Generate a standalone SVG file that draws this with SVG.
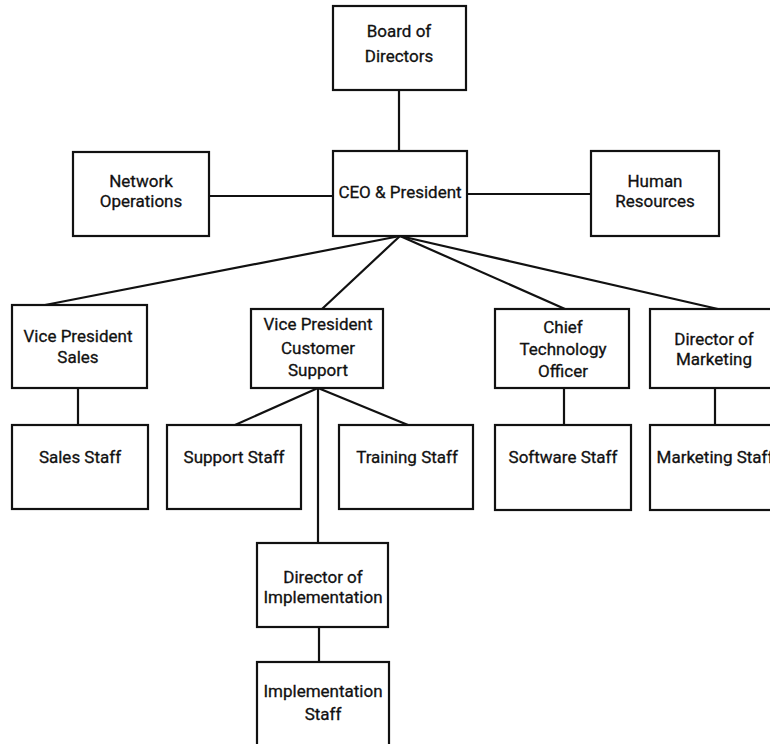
<svg xmlns="http://www.w3.org/2000/svg" width="770" height="744" viewBox="0 0 770 744">
<style>
.box{fill:#fff;stroke:#111;stroke-width:2.2}
.ln{stroke:#111;stroke-width:2.2;fill:none}
text{font-family:Roboto,"Liberation Sans",sans-serif;font-size:17px;fill:#111;text-anchor:middle;stroke:#111;stroke-width:0.3}
</style>
<rect width="770" height="744" fill="#fff"/>
<g id="connectors">
<line class="ln" x1="399" y1="90" x2="399" y2="151"/>
<line class="ln" x1="209" y1="196" x2="333" y2="196"/>
<line class="ln" x1="467" y1="194" x2="591" y2="194"/>
<line class="ln" x1="400" y1="236" x2="45" y2="305"/>
<line class="ln" x1="400" y1="236" x2="322" y2="309"/>
<line class="ln" x1="400" y1="236" x2="565" y2="309"/>
<line class="ln" x1="400" y1="236" x2="718" y2="309"/>
<line class="ln" x1="78" y1="388" x2="78" y2="425"/>
<line class="ln" x1="318" y1="388" x2="235" y2="425"/>
<line class="ln" x1="318" y1="388" x2="408" y2="425"/>
<line class="ln" x1="318" y1="388" x2="318" y2="543"/>
<line class="ln" x1="564" y1="388" x2="564" y2="425"/>
<line class="ln" x1="715" y1="388" x2="715" y2="425"/>
<line class="ln" x1="319" y1="627" x2="319" y2="662"/>
</g>
<g id="board"><rect class="box" x="333" y="6" width="133" height="84"/><text x="399" y="37">Board of</text><text x="399" y="62">Directors</text></g>
<g id="network"><rect class="box" x="73" y="152" width="136" height="84"/><text x="141" y="187">Network</text><text x="141" y="207">Operations</text></g>
<g id="ceo"><rect class="box" x="333" y="151" width="134" height="85"/><text x="400" y="198">CEO &amp; President</text></g>
<g id="hr"><rect class="box" x="591" y="151" width="128" height="85"/><text x="655" y="187">Human</text><text x="655" y="207">Resources</text></g>
<g id="vpsales"><rect class="box" x="12" y="305" width="135" height="83"/><text x="78" y="342">Vice President</text><text x="78" y="363">Sales</text></g>
<g id="vpcs"><rect class="box" x="251" y="309" width="132" height="79"/><text x="318" y="330">Vice President</text><text x="318" y="354">Customer</text><text x="318" y="376">Support</text></g>
<g id="cto"><rect class="box" x="495" y="309" width="134" height="79"/><text x="563" y="333">Chief</text><text x="563" y="355">Technology</text><text x="563" y="377">Officer</text></g>
<g id="dirmkt"><rect class="box" x="650" y="309" width="130" height="79"/><text x="714" y="345">Director of</text><text x="714" y="365">Marketing</text></g>
<g id="salesstaff"><rect class="box" x="12" y="425" width="136" height="84"/><text x="80" y="463">Sales Staff</text></g>
<g id="supportstaff"><rect class="box" x="167" y="425" width="134" height="84"/><text x="234" y="463">Support Staff</text></g>
<g id="trainingstaff"><rect class="box" x="339" y="425" width="134" height="84"/><text x="407" y="463">Training Staff</text></g>
<g id="softwarestaff"><rect class="box" x="495" y="425" width="136" height="85"/><text x="563" y="463">Software Staff</text></g>
<g id="marketingstaff"><rect class="box" x="650" y="425" width="130" height="85"/><text x="715" y="463">Marketing Staff</text></g>
<g id="dirimpl"><rect class="box" x="257" y="543" width="131" height="84"/><text x="323" y="583">Director of</text><text x="323" y="603">Implementation</text></g>
<g id="implstaff"><rect class="box" x="257" y="662" width="132" height="90"/><text x="323" y="697">Implementation</text><text x="323" y="720">Staff</text></g>
</svg>
